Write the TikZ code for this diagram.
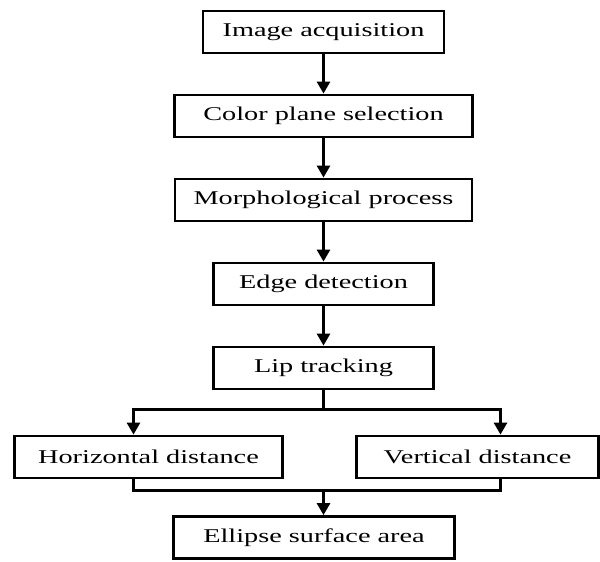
\documentclass[tikz,border=0pt]{standalone}
\usepackage{fontspec}
\setmainfont{Liberation Serif}[FakeStretch=1.45]
\usetikzlibrary{positioning,arrows.meta}
\tikzset{>={Triangle[width=13pt,length=12pt]},
node distance=39.2pt,
stage/.style={draw,line width=2.8pt,minimum height=42pt,inner sep=0pt,font=\fontsize{19.5pt}{24pt}\selectfont}, % every box of the chart
flow/.style={line width=2.8pt}
}
\begin{document}
\begin{tikzpicture}
    \useasboundingbox (-323.5pt,32pt) rectangle (276.5pt,-530pt);
    \node[stage,minimum width=241pt] (acq) {Image acquisition};
    \node[stage,minimum width=298pt,below=of acq] (color) {Color plane selection};
    \node[stage,minimum width=297pt,below=of color] (morph) {Morphological process};
    \node[stage,minimum width=220pt,below=of morph] (edge) {Edge detection};
    \node[stage,minimum width=220pt,below=of edge] (lip) {Lip tracking};
    \node[stage,minimum width=268pt,below=44.2pt of lip,xshift=-175pt] (horiz) {Horizontal distance};
    \node[stage,minimum width=242pt,below=44.2pt of lip,xshift=154pt] (vert) {Vertical distance};
    \node[stage,minimum width=281pt,below=124.7pt of lip,xshift=-9.5pt] (ellipse) {Ellipse surface area};

    \foreach \a/\b in {acq/color,color/morph,morph/edge,edge/lip}
        \draw[flow,->] (\a) -- (\b);

    \coordinate[below=19pt of lip] (split);
    \coordinate (hin) at ([xshift=-15pt]horiz.north);
    \coordinate (vin) at ([xshift=23pt]vert.north);
    \coordinate (hout) at ([xshift=-15pt]horiz.south);
    \coordinate (vout) at ([xshift=23pt]vert.south);
    \coordinate (merge) at ([yshift=25pt]ellipse.north -| lip.south);

    \draw[flow] (lip.south) -- (split);
    \draw[flow,->] (split) -| (hin);
    \draw[flow,->] (split) -| (vin);
    \draw[flow] (hout) |- (vout |- merge) -- (vout);
    \draw[flow,->] (merge) -- (ellipse.north -| merge);
\end{tikzpicture}
\end{document}
